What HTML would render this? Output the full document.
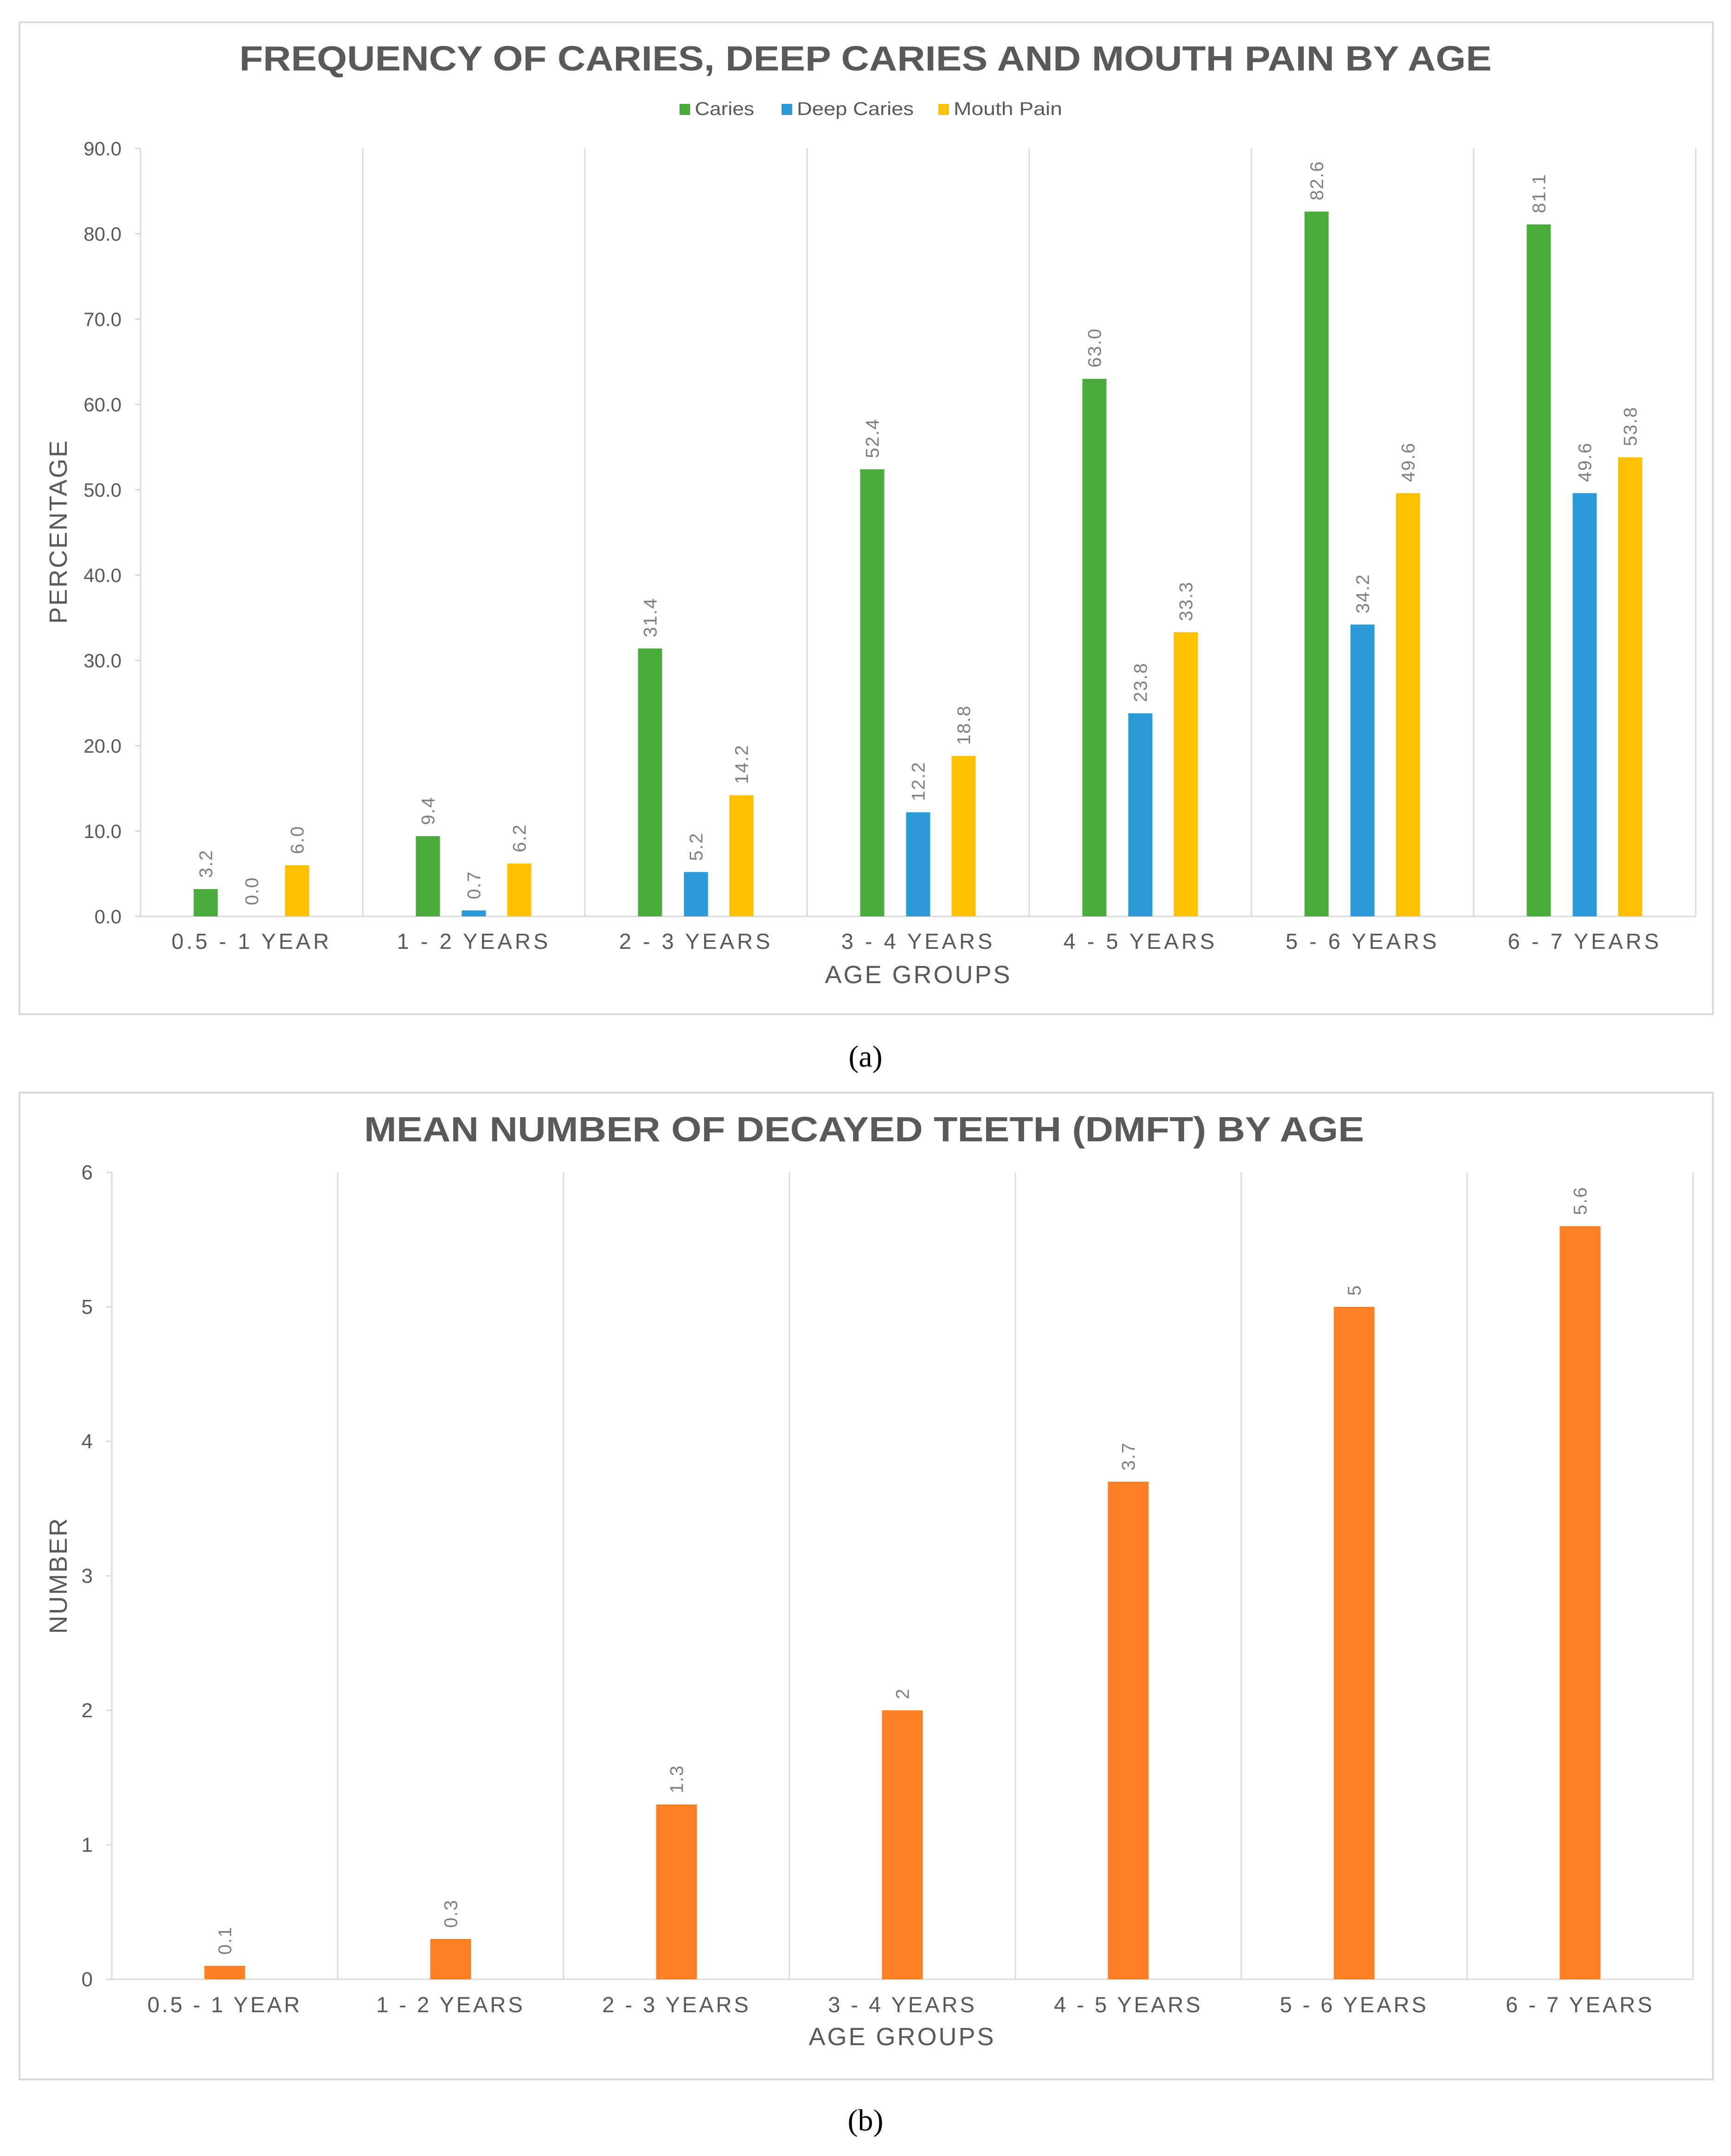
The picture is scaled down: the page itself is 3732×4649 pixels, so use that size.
<!DOCTYPE html>
<html><head><meta charset="utf-8"><style>
html,body{margin:0;padding:0;background:#fff;}
svg{display:block;font-family:"Liberation Sans",sans-serif;}
</style></head><body>
<svg id="svg" width="3732" height="4649" viewBox="0 0 3732 4649" xmlns="http://www.w3.org/2000/svg">
<rect x="42" y="48" width="3651" height="2139" fill="#fff" stroke="#d9d9d9" stroke-width="4"/>
<rect x="42" y="2356" width="3651" height="2128" fill="#fff" stroke="#d9d9d9" stroke-width="4"/>
<text x="1866" y="152" text-anchor="middle" font-size="75" font-weight="bold" fill="#595959" textLength="2700" lengthAdjust="spacingAndGlyphs">FREQUENCY OF CARIES, DEEP CARIES AND MOUTH PAIN BY AGE</text>
<text x="1863" y="2461" text-anchor="middle" font-size="75" font-weight="bold" fill="#595959" textLength="2156" lengthAdjust="spacingAndGlyphs">MEAN NUMBER OF DECAYED TEETH (DMFT) BY AGE</text>
<g>
<rect x="1465" y="224" width="23" height="24" fill="#4aad3b"/>
<text x="1498" y="248" font-size="40" fill="#595959" textLength="128" lengthAdjust="spacingAndGlyphs">Caries</text>
<rect x="1685" y="224" width="23" height="24" fill="#2b9bd8"/>
<text x="1718" y="248" font-size="40" fill="#595959" textLength="252" lengthAdjust="spacingAndGlyphs">Deep Caries</text>
<rect x="2023" y="224" width="23" height="24" fill="#ffc000"/>
<text x="2056" y="248" font-size="40" fill="#595959" textLength="234" lengthAdjust="spacingAndGlyphs">Mouth Pain</text>
</g>
<text transform="translate(144,1146) rotate(-90)" text-anchor="middle" font-size="54" letter-spacing="3" fill="#595959">PERCENTAGE</text>
<text x="1980" y="2120" text-anchor="middle" font-size="54" letter-spacing="4" fill="#595959">AGE GROUPS</text>
<text transform="translate(144,3397) rotate(-90)" text-anchor="middle" font-size="54" letter-spacing="3" fill="#595959">NUMBER</text>
<text x="1945" y="4410" text-anchor="middle" font-size="54" letter-spacing="4" fill="#595959">AGE GROUPS</text>
<text x="1866" y="2300" text-anchor="middle" font-size="66" fill="#000" font-family="Liberation Serif, serif">(a)</text>
<text x="1866" y="4594" text-anchor="middle" font-size="66" fill="#000" font-family="Liberation Serif, serif">(b)</text>
<g id="ga"></g>
<g id="gb"></g>
</svg>
<script>
const categories = ["0.5 - 1 YEAR","1 - 2 YEARS","2 - 3 YEARS","3 - 4 YEARS","4 - 5 YEARS","5 - 6 YEARS","6 - 7 YEARS"];
const cariesValues = [3.2, 9.4, 31.4, 52.4, 63.0, 82.6, 81.1];
const deepCariesValues = [0.0, 0.7, 5.2, 12.2, 23.8, 34.2, 49.6];
const mouthPainValues = [6.0, 6.2, 14.2, 18.8, 33.3, 49.6, 53.8];
const percentTicks = [0,10,20,30,40,50,60,70,80,90];
const dmftValues = [0.1, 0.3, 1.3, 2, 3.7, 5, 5.6];
const dmftLabels = ["0.1","0.3","1.3","2","3.7","5","5.6"];
const numberTicks = [0,1,2,3,4,5,6];

const NS = "http://www.w3.org/2000/svg";
function mk(parent, tag, attrs, text){
  const e = document.createElementNS(NS, tag);
  for (const k in attrs) e.setAttribute(k, attrs[k]);
  if (text !== undefined) e.textContent = text;
  parent.appendChild(e);
  return e;
}
const GRID = "#d9d9d9", TXT = "#595959", LBL = "#7f7f7f";

// ---- Chart A ----
(function(){
  const g = document.getElementById('ga');
  const x0 = 303, step = 479, y0 = 1976, yTop = 320, maxV = 90;
  const yS = v => y0 - v / maxV * (y0 - yTop);
  const xC = i => x0 + step * (i + 0.5);
  let e = mk(g,'line',{x1:x0,y1:yTop,x2:x0,y2:y0,stroke:GRID,'stroke-width':3});
   
  e = mk(g,'line',{x1:x0-12,y1:y0,x2:x0+step*7,y2:y0,stroke:GRID,'stroke-width':3});
   
  for (let i=1;i<=7;i++){
    e = mk(g,'line',{x1:x0+step*i,y1:yTop,x2:x0+step*i,y2:y0,stroke:GRID,'stroke-width':3});
     
  }
  percentTicks.forEach(t=>{
    e = mk(g,'line',{x1:x0-12,y1:yS(t),x2:x0,y2:yS(t),stroke:GRID,'stroke-width':3});
     
    e = mk(g,'text',{x:262,y:yS(t)+15,'text-anchor':'end','font-size':42,fill:TXT},t.toFixed(1));
     
  });
  categories.forEach((c,i)=>{
    e = mk(g,'text',{x:xC(i),y:2046,'text-anchor':'middle','font-size':47,'letter-spacing':6,fill:TXT},c);
     
  });
  const series = [[cariesValues,'#4aad3b',-99,'caries'],[deepCariesValues,'#2b9bd8',0,'deep-caries'],[mouthPainValues,'#ffc000',98,'mouth-pain']];
  const bw = 52;
  series.forEach(([vals,col,off,nm])=>{
    vals.forEach((v,i)=>{
      const cx = xC(i)+off;
      const r = mk(g,'rect',{x:cx-bw/2,y:yS(v),width:bw,height:y0-yS(v),fill:col});
       
      const t = mk(g,'text',{transform:`translate(${cx+14},${yS(v)-24}) rotate(-90)`,'font-size':40,'letter-spacing':2,fill:LBL},v.toFixed(1));
       
    });
  });
})();

// ---- Chart B ----
(function(){
  const g = document.getElementById('gb');
  const x0 = 241, step = 487, y0 = 4268, unit = 290, maxV = 6;
  const yS = v => y0 - v * unit;
  const xC = i => x0 + step * (i + 0.5);
  const yTop = yS(maxV);
  let e = mk(g,'line',{x1:x0,y1:yTop,x2:x0,y2:y0,stroke:GRID,'stroke-width':3});
   
  e = mk(g,'line',{x1:x0-12,y1:y0,x2:x0+step*7,y2:y0,stroke:GRID,'stroke-width':3});
   
  for (let i=1;i<=7;i++){
    e = mk(g,'line',{x1:x0+step*i,y1:yTop,x2:x0+step*i,y2:y0,stroke:GRID,'stroke-width':3});
     
  }
  numberTicks.forEach(t=>{
    e = mk(g,'line',{x1:x0-12,y1:yS(t),x2:x0,y2:yS(t),stroke:GRID,'stroke-width':3});
     
    e = mk(g,'text',{x:200,y:yS(t)+15,'text-anchor':'end','font-size':44,fill:TXT},String(t));
     
  });
  categories.forEach((c,i)=>{
    e = mk(g,'text',{x:xC(i),y:4339,'text-anchor':'middle','font-size':47,'letter-spacing':5,fill:TXT},c);
     
  });
  const bw = 88;
  dmftValues.forEach((v,i)=>{
    const cx = xC(i);
    const r = mk(g,'rect',{x:cx-bw/2,y:yS(v),width:bw,height:y0-yS(v),fill:'#fd8124'});
     
    const t = mk(g,'text',{transform:`translate(${cx+14},${yS(v)-24}) rotate(-90)`,'font-size':40,'letter-spacing':2,fill:LBL},dmftLabels[i]);
     
  });
})();
</script>
</body></html>
